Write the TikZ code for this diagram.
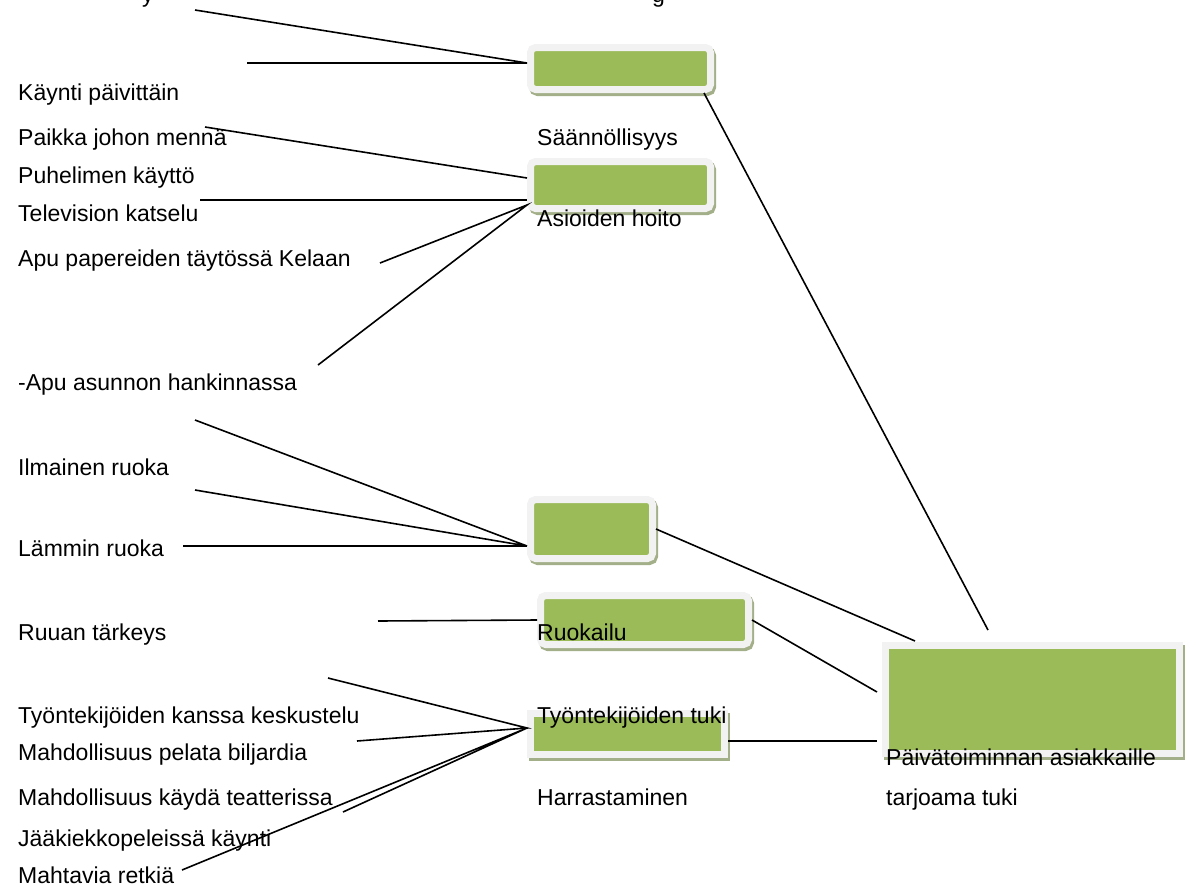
\documentclass[tikz,border=0pt]{standalone}
\usepackage{fontspec}
\setmainfont{Liberation Sans}
\usepackage{xcolor}
\usepackage{tikz}
\usetikzlibrary{calc}
\definecolor{boxgreen}{HTML}{9BBB59}
\definecolor{boxgrey}{HTML}{F2F2F2}
\definecolor{shade}{HTML}{A3AF89}
\tikzset{
  line/.style={draw=black, line width=1.6pt},
  box/.style={fill=boxgreen, draw=boxgrey, line width=7pt, rounded corners=5pt, inner sep=0pt,
    preaction={draw=shade, fill=shade, transform canvas={xshift=2pt, yshift=-3pt}}},
  sbox/.style={box, sharp corners},
  lbl/.style={text=black, font=\fontsize{23}{27}\selectfont, inner sep=0pt, anchor=base west}
}
\begin{document}
\begin{tikzpicture}[x=1pt, y=-1pt]
  \useasboundingbox (0,0) rectangle (1189,892);
  \clip (0,0) rectangle (1189,892);

  \node[box, minimum width=180pt, minimum height=42pt] (S) at (620.5,68.5) {};
  \node[box, minimum width=180pt, minimum height=47pt] (A) at (620.5,185) {};
  \node[box, minimum width=122pt, minimum height=59pt] (R1) at (591.5,529) {};
  \node[box, minimum width=208pt, minimum height=49pt] (R2) at (644.5,620) {};
  \node[sbox, minimum width=194pt, minimum height=41pt] (T) at (627.5,734) {};
  \node[sbox, minimum width=294pt, minimum height=108pt] (P) at (1032.5,699.5) {};

  \node[lbl] (top1) at (142,2) {y};
  \node[lbl] (top2) at (652,2) {g};

  \node[lbl] (k1) at (18,100) {Käynti päivittäin};
  \node[lbl] (k2) at (18,145) {Paikka johon mennä};
  \node[lbl] (k3) at (18,183) {Puhelimen käyttö};
  \node[lbl] (k4) at (18,221) {Television katselu};
  \node[lbl] (k5) at (18,266) {Apu papereiden täytössä Kelaan};
  \node[lbl] (k6) at (18,390) {-Apu asunnon hankinnassa};
  \node[lbl] (k7) at (18,475) {Ilmainen ruoka};
  \node[lbl] (k8) at (18,556) {Lämmin ruoka};
  \node[lbl] (k9) at (18,640) {Ruuan tärkeys};
  \node[lbl] (k10) at (18,723) {Työntekijöiden kanssa keskustelu};
  \node[lbl] (k11) at (18,760) {Mahdollisuus pelata biljardia};
  \node[lbl] (k12) at (18,805) {Mahdollisuus käydä teatterissa};
  \node[lbl] (k13) at (18,846) {Jääkiekkopeleissä käynti};
  \node[lbl] (k14) at (18,883) {Mahtavia retkiä};

  \node[lbl] (m1) at (537,145) {Säännöllisyys};
  \node[lbl] (m2) at (537,226) {Asioiden hoito};
  \node[lbl] (m3) at (537,640) {Ruokailu};
  \node[lbl] (m4) at (537,723) {Työntekijöiden tuki};
  \node[lbl] (m5) at (537,805) {Harrastaminen};
  \node[lbl] (r1) at (886,765) {Päivätoiminnan asiakkaille};
  \node[lbl] (r2) at (886,805) {tarjoama tuki};

  \coordinate (a1) at (195,10);
  \coordinate (a2) at (247,63);
  \coordinate (b1) at (205,127);
  \coordinate (b2) at (200,200);
  \coordinate (b3) at (380,263);
  \coordinate (b4) at (318,365);
  \coordinate (c1) at (195,420);
  \coordinate (c2) at (195,490);
  \coordinate (c3) at (183,546);
  \coordinate (d1) at (378,621);
  \coordinate (e1) at (328,678);
  \coordinate (e2) at (357,741);
  \coordinate (e3) at (343,812);
  \coordinate (e4) at (182,870);
  \coordinate (p1) at (988,630);
  \coordinate (p2) at (915,641);
  \coordinate (p3) at (877,692);
  \coordinate (p4) at (877,741);

  \draw[line] (a1) -- ([yshift=5.5pt]S.west) -- (a2);
  \draw[line] (b1) -- ([yshift=7pt]A.west);
  \draw[line] (b2) -- ([yshift=-15pt]A.west);
  \draw[line] (b3) -- ([yshift=-20pt]A.west) -- (b4);
  \draw[line] (c1) -- ([yshift=-17pt]R1.west) -- (c2);
  \draw[line] (c3) -- ([yshift=-17pt]R1.west);
  \draw[line] (d1) -- (R2.west);
  \draw[line] (e1) -- ([yshift=6pt]T.west) -- (e2);
  \draw[line] (e3) -- ([yshift=6pt]T.west) -- (e4);

  \draw[line] ([xshift=-10pt]S.south east) -- (p1);
  \draw[line] (R1.east) -- (p2);
  \draw[line] (R2.east) -- (p3);
  \draw[line] ([yshift=-7pt]T.east) -- (p4);
\end{tikzpicture}
\end{document}
